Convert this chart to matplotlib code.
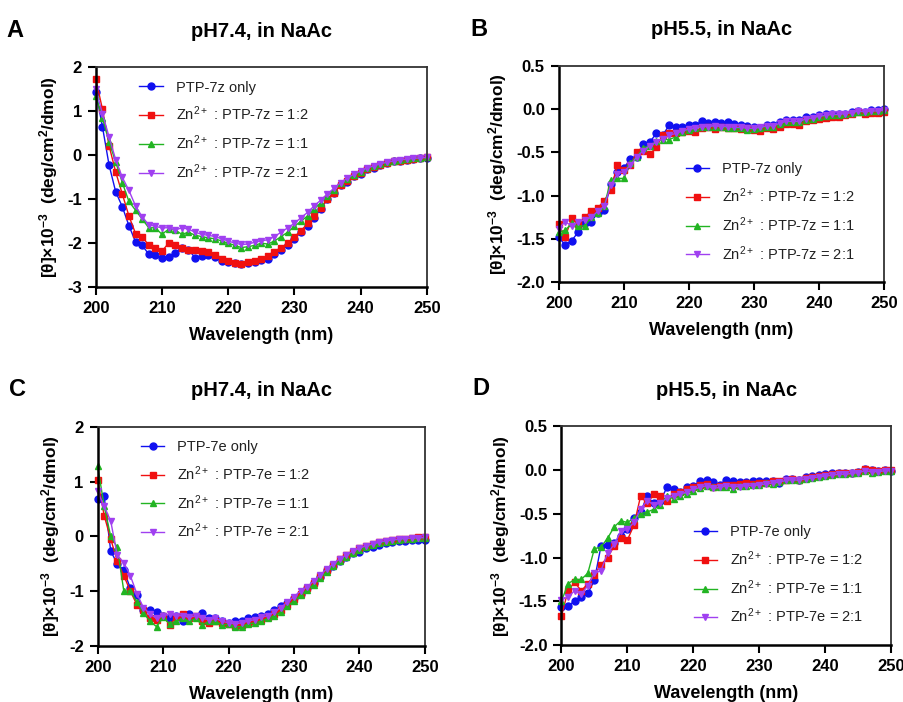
import numpy as np
import matplotlib
matplotlib.use("Agg")
import matplotlib.pyplot as plt

plt.rcParams['font.family'] = ['Liberation Sans', 'DejaVu Sans']
plt.rcParams['axes.unicode_minus'] = False
plt.rcParams['mathtext.default'] = 'regular'

# wavelength, 1 nm steps
wl = list(range(200, 251))

# ---- Panel A: pH7.4, PTP-7z ----
a_only = [1.45, 0.65, -0.22, -0.83, -1.17, -1.6, -1.97, -2.05, -2.25, -2.28,
          -2.33, -2.32, -2.22, -2.1, -2.15, -2.33, -2.3, -2.28, -2.32, -2.4,
          -2.42, -2.46, -2.48, -2.46, -2.42, -2.38, -2.36, -2.25, -2.15, -2.05,
          -1.9, -1.75, -1.6, -1.42, -1.22, -1.0, -0.85, -0.68, -0.6, -0.48,
          -0.42, -0.32, -0.28, -0.22, -0.18, -0.14, -0.12, -0.1, -0.08, -0.07, -0.06]
a_12 = [1.73, 1.05, 0.22, -0.38, -0.88, -1.38, -1.78, -1.85, -2.05, -2.1,
        -2.18, -2.0, -2.05, -2.1, -2.15, -2.15, -2.18, -2.2, -2.28, -2.35,
        -2.4, -2.45, -2.48, -2.42, -2.4, -2.35, -2.3, -2.2, -2.1, -2.0,
        -1.85, -1.72, -1.55, -1.38, -1.2, -1.0, -0.85, -0.68, -0.58, -0.48,
        -0.4, -0.32, -0.27, -0.22, -0.18, -0.14, -0.12, -0.1, -0.08, -0.07, -0.05]
a_11 = [1.35, 0.85, 0.3, -0.15, -0.62, -1.05, -1.25, -1.45, -1.65, -1.65,
        -1.8, -1.68, -1.7, -1.8, -1.75, -1.82, -1.85, -1.88, -1.9, -1.95,
        -2.0, -2.05, -2.1, -2.08, -2.05, -2.0, -2.02, -1.95, -1.85, -1.75,
        -1.62, -1.5, -1.38, -1.22, -1.08, -0.92, -0.78, -0.64, -0.55, -0.45,
        -0.38, -0.3, -0.25, -0.2, -0.16, -0.13, -0.11, -0.09, -0.07, -0.06, -0.05]
a_21 = [1.5, 0.95, 0.42, -0.1, -0.5, -0.8, -1.15, -1.4, -1.58, -1.62,
        -1.65, -1.65, -1.7, -1.65, -1.68, -1.75, -1.8, -1.82, -1.85, -1.9,
        -1.95, -2.0, -2.03, -2.02, -1.98, -1.95, -1.92, -1.85, -1.75, -1.65,
        -1.55, -1.42, -1.3, -1.15, -1.02, -0.88, -0.75, -0.62, -0.52, -0.43,
        -0.36, -0.29, -0.24, -0.19, -0.16, -0.13, -0.1, -0.09, -0.07, -0.06, -0.05]

# ---- Panel B: pH5.5, PTP-7z ----
b_only = [-1.48, -1.57, -1.52, -1.42, -1.32, -1.3, -1.2, -1.17, -0.87, -0.72,
          -0.68, -0.58, -0.55, -0.4, -0.38, -0.28, -0.3, -0.18, -0.21, -0.21,
          -0.18, -0.18, -0.14, -0.16, -0.15, -0.16, -0.15, -0.17, -0.18, -0.19,
          -0.21, -0.22, -0.18, -0.18, -0.15, -0.12, -0.12, -0.13, -0.09, -0.09,
          -0.07, -0.06, -0.06, -0.05, -0.05, -0.03, -0.02, -0.03, -0.01, -0.01, 0.0]
b_12 = [-1.33, -1.48, -1.26, -1.33, -1.25, -1.18, -1.14, -1.06, -0.93, -0.65,
        -0.7, -0.65, -0.5, -0.48, -0.52, -0.44, -0.3, -0.28, -0.27, -0.26,
        -0.25, -0.26, -0.22, -0.2, -0.23, -0.2, -0.22, -0.22, -0.23, -0.22,
        -0.24, -0.25, -0.22, -0.23, -0.2, -0.17, -0.17, -0.18, -0.14, -0.13,
        -0.11, -0.1, -0.09, -0.09, -0.07, -0.06, -0.03, -0.05, -0.04, -0.04, -0.03]
b_11 = [-1.42, -1.4, -1.32, -1.35, -1.35, -1.25, -1.2, -1.12, -0.82, -0.8,
        -0.8, -0.62, -0.55, -0.45, -0.42, -0.37, -0.35, -0.35, -0.32, -0.26,
        -0.24, -0.22, -0.2, -0.2, -0.2, -0.2, -0.22, -0.22, -0.22, -0.24,
        -0.23, -0.22, -0.2, -0.2, -0.17, -0.15, -0.15, -0.15, -0.12, -0.11,
        -0.09, -0.08, -0.07, -0.07, -0.05, -0.04, -0.03, -0.03, -0.02, -0.02, -0.01]
b_21 = [-1.38, -1.3, -1.35, -1.3, -1.28, -1.25, -1.18, -1.12, -0.88, -0.75,
        -0.72, -0.65, -0.55, -0.48, -0.42, -0.38, -0.34, -0.3, -0.28, -0.25,
        -0.23, -0.22, -0.2, -0.2, -0.19, -0.2, -0.2, -0.21, -0.21, -0.22,
        -0.22, -0.21, -0.19, -0.19, -0.16, -0.14, -0.14, -0.14, -0.11, -0.1,
        -0.08, -0.07, -0.06, -0.06, -0.05, -0.04, -0.02, -0.03, -0.02, -0.02, -0.01]

# ---- Panel C: pH7.4, PTP-7e ----
c_only = [0.68, 0.73, -0.27, -0.5, -0.62, -0.95, -1.08, -1.35, -1.35, -1.38,
          -1.45, -1.5, -1.45, -1.55, -1.42, -1.48, -1.4, -1.5, -1.5, -1.55,
          -1.58, -1.55, -1.55, -1.5, -1.48, -1.45, -1.42, -1.35, -1.28, -1.22,
          -1.12, -1.05, -0.95, -0.85, -0.74, -0.62, -0.55, -0.45, -0.38, -0.3,
          -0.28, -0.22, -0.19, -0.15, -0.12, -0.1, -0.09, -0.08, -0.07, -0.06, -0.06]
c_12 = [1.03, 0.38, -0.05, -0.45, -0.72, -1.0, -1.25, -1.35, -1.5, -1.52,
        -1.45, -1.62, -1.48, -1.42, -1.5, -1.45, -1.55, -1.58, -1.55, -1.58,
        -1.6, -1.63, -1.62, -1.58, -1.55, -1.52, -1.48, -1.42, -1.35, -1.25,
        -1.15, -1.05, -0.95, -0.85, -0.72, -0.62, -0.52, -0.42, -0.35, -0.28,
        -0.22, -0.18, -0.14, -0.11, -0.08, -0.06, -0.05, -0.04, -0.03, -0.02, -0.02]
c_11 = [1.28, 0.55, 0.0, -0.2, -1.0, -1.0, -1.2, -1.4, -1.55, -1.65,
        -1.48, -1.6, -1.55, -1.5, -1.55, -1.5, -1.62, -1.55, -1.55, -1.62,
        -1.6, -1.65, -1.65, -1.6, -1.58, -1.55, -1.5, -1.45, -1.38, -1.28,
        -1.18, -1.08, -0.98, -0.88, -0.76, -0.65, -0.55, -0.45, -0.37, -0.3,
        -0.25, -0.2, -0.16, -0.13, -0.1, -0.08, -0.06, -0.05, -0.04, -0.03, -0.03]
c_21 = [0.82, 0.55, 0.28, -0.35, -0.48, -0.72, -1.05, -1.3, -1.42, -1.5,
        -1.45, -1.42, -1.45, -1.45, -1.48, -1.45, -1.5, -1.52, -1.5, -1.55,
        -1.58, -1.6, -1.58, -1.55, -1.52, -1.48, -1.45, -1.38, -1.3, -1.2,
        -1.1, -1.0, -0.92, -0.82, -0.7, -0.6, -0.5, -0.41, -0.34, -0.27,
        -0.22, -0.17, -0.14, -0.11, -0.08, -0.07, -0.05, -0.04, -0.03, -0.03, -0.02]

# ---- Panel D: pH5.5, PTP-7e ----
d_only = [-1.57, -1.55, -1.5, -1.45, -1.41, -1.26, -0.87, -0.86, -0.83, -0.75,
          -0.68, -0.55, -0.48, -0.3, -0.38, -0.35, -0.2, -0.22, -0.25, -0.2,
          -0.18, -0.13, -0.11, -0.14, -0.17, -0.11, -0.13, -0.14, -0.14, -0.13,
          -0.13, -0.13, -0.13, -0.15, -0.1, -0.1, -0.11, -0.08, -0.07, -0.06,
          -0.05, -0.04, -0.04, -0.04, -0.03, -0.02, 0.01, 0.0, -0.01, 0.0, -0.01]
d_12 = [-1.67, -1.38, -1.28, -1.38, -1.3, -1.2, -1.08, -1.0, -0.87, -0.78,
        -0.8, -0.63, -0.3, -0.38, -0.28, -0.3, -0.35, -0.28, -0.25, -0.22,
        -0.2, -0.17, -0.16, -0.2, -0.18, -0.17, -0.17, -0.16, -0.15, -0.16,
        -0.15, -0.15, -0.13, -0.13, -0.12, -0.1, -0.11, -0.09, -0.08, -0.07,
        -0.06, -0.05, -0.04, -0.04, -0.03, -0.02, 0.01, 0.0, -0.01, 0.0, 0.0]
d_11 = [-1.5, -1.3, -1.25, -1.25, -1.18, -0.9, -0.88, -0.78, -0.65, -0.58,
        -0.6, -0.55, -0.5, -0.48, -0.45, -0.4, -0.3, -0.33, -0.3, -0.27,
        -0.24, -0.21, -0.18, -0.2, -0.2, -0.19, -0.22, -0.18, -0.18, -0.17,
        -0.17, -0.15, -0.16, -0.14, -0.12, -0.12, -0.12, -0.1, -0.09, -0.08,
        -0.07, -0.06, -0.05, -0.05, -0.04, -0.03, -0.01, -0.03, -0.02, -0.01, -0.01]
d_21 = [-1.48, -1.45, -1.38, -1.42, -1.32, -1.18, -1.15, -0.95, -0.85, -0.7,
        -0.68, -0.6, -0.45, -0.35, -0.4, -0.38, -0.32, -0.3, -0.28, -0.25,
        -0.22, -0.2, -0.18, -0.21, -0.2, -0.18, -0.19, -0.19, -0.18, -0.18,
        -0.17, -0.16, -0.15, -0.14, -0.12, -0.11, -0.12, -0.1, -0.09, -0.08,
        -0.07, -0.06, -0.05, -0.05, -0.04, -0.03, -0.01, -0.02, -0.02, -0.01, -0.01]

colors = ['#1010f0', '#f01010', '#22b422', '#a040f0']
markers = ['o', 's', '^', 'v']

panels = [
    # letter, title, peptide, series, ylim, yticks, ytick fmt, axes rect, legend loc, legend anchor
    ('A', 'pH7.4, in NaAc', '7z', [a_only, a_12, a_11, a_21], (-3, 2), [-3, -2, -1, 0, 1, 2], '%d',
     [0.106, 0.591, 0.366, 0.313], 'upper left', (0.092, 1.0)),
    ('B', 'pH5.5, in NaAc', '7z', [b_only, b_12, b_11, b_21], (-2.0, 0.5), [-2.0, -1.5, -1.0, -0.5, 0.0, 0.5], '%.1f',
     [0.618, 0.598, 0.360, 0.308], 'lower right', (0.95, 0.03)),
    ('C', 'pH7.4, in NaAc', '7e', [c_only, c_12, c_11, c_21], (-2, 2), [-2, -1, 0, 1, 2], '%d',
     [0.108, 0.080, 0.362, 0.312], 'upper left', (0.092, 1.0)),
    ('D', 'pH5.5, in NaAc', '7e', [d_only, d_12, d_11, d_21], (-2.0, 0.5), [-2.0, -1.5, -1.0, -0.5, 0.0, 0.5], '%.1f',
     [0.621, 0.081, 0.365, 0.312], 'lower right', (0.955, 0.03)),
]

fig = plt.figure(figsize=(9.04, 7.02), dpi=100)

for letter, title, pep, series, ylim, yticks, fmt, rect, loc, anchor in panels:
    ax = fig.add_axes(rect)
    labels = ['PTP-%s only' % pep,
              'Zn$^{2+}$ : PTP-%s = 1:2' % pep,
              'Zn$^{2+}$ : PTP-%s = 1:1' % pep,
              'Zn$^{2+}$ : PTP-%s = 2:1' % pep]
    for vals, c, m, lab in zip(series, colors, markers, labels):
        ax.plot(wl, vals, color=c, marker=m, markersize=5, linewidth=1.0,
                label=lab, clip_on=False)
    ax.set_xlim(200, 250)
    ax.set_ylim(*ylim)
    ax.set_xticks([200, 210, 220, 230, 240, 250])
    ax.set_yticks(yticks)
    ax.set_yticklabels([fmt % v for v in yticks])
    for sp in ['left', 'bottom']:
        ax.spines[sp].set_linewidth(1.8)
    for sp in ['top', 'right']:
        ax.spines[sp].set_linewidth(1.3)
        ax.spines[sp].set_color('#333333')
    ax.tick_params(direction='out', length=6, width=1.5, labelsize=12, pad=4)
    for t in ax.get_xticklabels() + ax.get_yticklabels():
        t.set_fontweight('bold')
    ax.set_xlabel('Wavelength (nm)', fontsize=13, fontweight='bold', labelpad=8)
    ax.set_ylabel('[θ]×10$^{-3}$  (deg/cm$^2$/dmol)', fontsize=12.5, fontweight='bold', labelpad=5)
    ax.set_title(title, fontsize=14.5, fontweight='bold', pad=22)
    ax.text(-0.27, 1.17, letter, transform=ax.transAxes, fontsize=17, fontweight='bold',
            ha='left', va='center')
    ax.legend(loc=loc, bbox_to_anchor=anchor, frameon=False, fontsize=10.5,
              handlelength=1.6, labelspacing=0.7, handletextpad=0.9, labelcolor='#222222')

fig.savefig('out.png', dpi=100)
